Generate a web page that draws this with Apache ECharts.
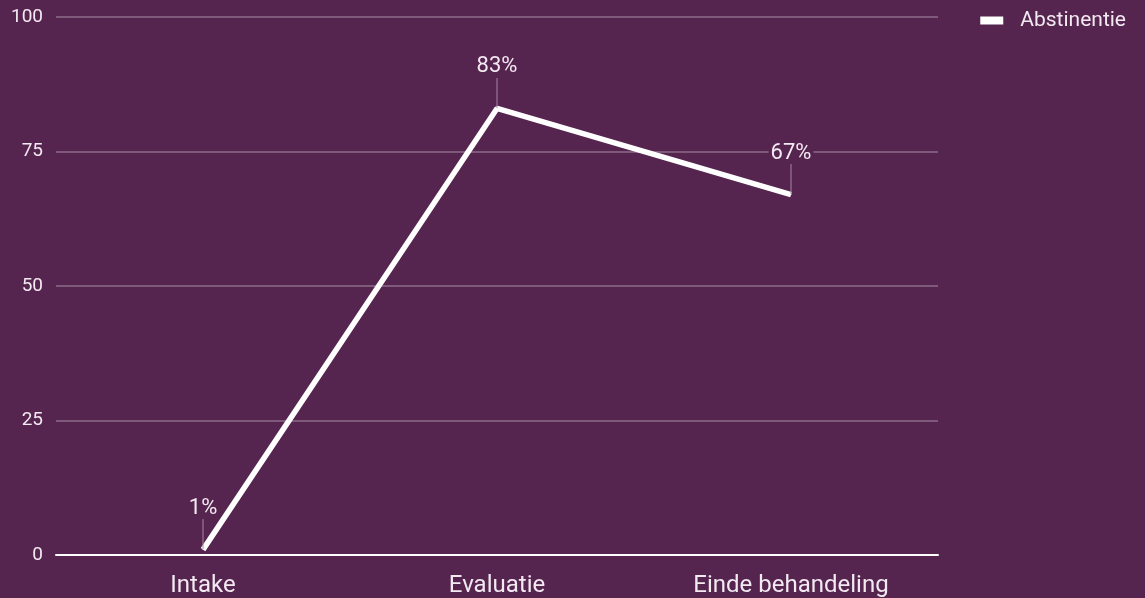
<!DOCTYPE html>
<html><head><meta charset="utf-8">
<script src="https://cdn.jsdelivr.net/npm/echarts@6/dist/echarts.min.js"></script>
<style>html,body{margin:0;padding:0;background:#55244f;}#c{width:1145px;height:598px;}</style>
</head><body><div id="c"></div>
<script>
const categories = ['Intake', 'Evaluatie', 'Einde behandeling'];
const abstinentie = [1, 83, 67];
const yTicks = [0, 25, 50, 75, 100];
const seriesName = 'Abstinentie';

const chart = echarts.init(document.getElementById('c'));
chart.setOption({
  backgroundColor: '#55244f',
  animation: false,
  textStyle: { fontFamily: 'Roboto' },
  grid: { left: 56, right: 207, top: 17, bottom: 43 },
  legend: {
    right: 14, top: 5,
    itemWidth: 23, itemHeight: 8,
    icon: 'rect',
    textStyle: { color: '#f3e9f1', fontSize: 21, fontFamily: 'Roboto', padding: [0, 0, 0, 12] },
    data: [{ name: seriesName, itemStyle: { color: '#ffffff' } }]
  },
  xAxis: {
    type: 'category', data: categories, boundaryGap: true,
    axisLine: { show: true, lineStyle: { color: '#ffffff', width: 2 } },
    axisTick: { show: false },
    axisLabel: { color: '#f3e9f1', fontSize: 24, margin: 19, fontFamily: 'Roboto' }
  },
  yAxis: {
    type: 'value', min: yTicks[0], max: yTicks[yTicks.length - 1], interval: 25,
    axisLine: { show: false }, axisTick: { show: false },
    splitLine: { lineStyle: { color: '#8d6b89', width: 1.5 } },
    axisLabel: { color: '#f3e9f1', fontSize: 19, margin: 13, fontFamily: 'Roboto' }
  },
  series: [{
    name: seriesName, type: 'line', data: abstinentie,
    symbol: 'circle', symbolSize: 1, showSymbol: true,
    itemStyle: { color: '#ffffff' },
    lineStyle: { color: '#ffffff', width: 5.5 },
    label: {
      show: true, position: 'top', distance: 2, formatter: '{c}%',
      color: '#f3e9f1', fontSize: 22, fontFamily: 'Roboto',
      backgroundColor: '#55244f', padding: [0, 2]
    },
    labelLayout: { dy: -28 },
    labelLine: { show: true, lineStyle: { color: '#a887a3', width: 1 } }
  }]
});
</script></body></html>
